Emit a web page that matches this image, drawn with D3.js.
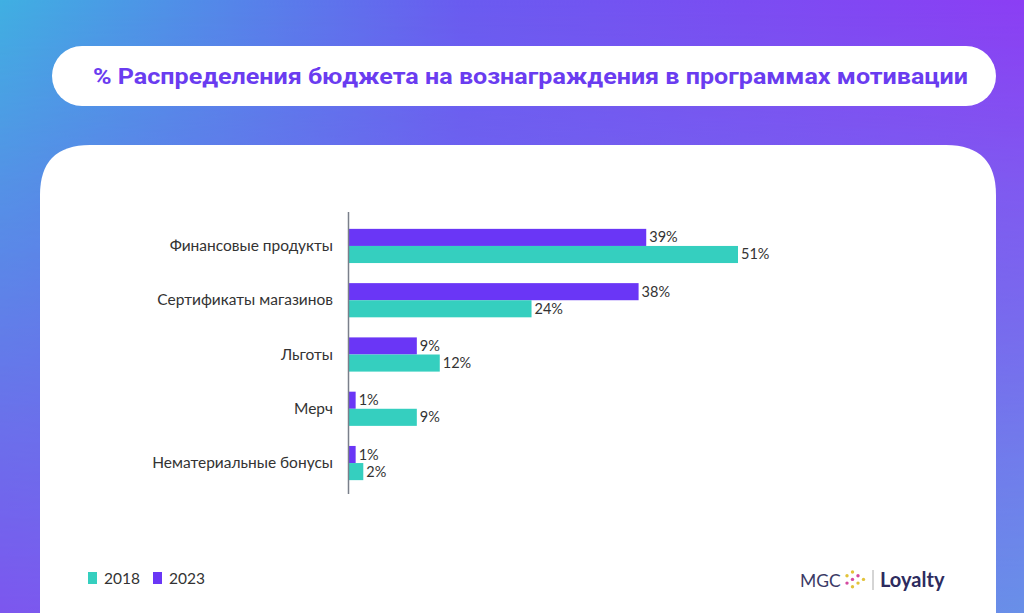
<!DOCTYPE html>
<html><head><meta charset="utf-8">
<script src="https://cdn.jsdelivr.net/npm/d3@7"></script>
<style>html,body{margin:0;padding:0;overflow:hidden;background:#fff}svg{display:block}</style>
</head><body>
<svg id="c" width="1024" height="613"></svg>
<script>
const title = "% Распределения бюджета на вознаграждения в программах мотивации";
const categories = ["Финансовые продукты","Сертификаты магазинов","Льготы","Мерч","Нематериальные бонусы"];
const seriesNames = ["2023","2018"];
const values2023 = [39,38,9,1,1];
const values2018 = [51,24,12,9,2];
const legendOrder = ["2018","2023"];
const colors = {"2023":"#6a36f6","2018":"#35cfbf"};

const svg = d3.select("#c");
const defs = svg.append("defs");
const gTop = defs.append("linearGradient").attr("id","gTop").attr("x1",0).attr("x2",1).attr("y1",0).attr("y2",0);
gTop.append("stop").attr("offset","0%").attr("stop-color","#40b0e2");
gTop.append("stop").attr("offset","45%").attr("stop-color","#6a5cf0");
gTop.append("stop").attr("offset","100%").attr("stop-color","#8c3ef4");
const gBot = defs.append("linearGradient").attr("id","gBot").attr("x1",0).attr("x2",1).attr("y1",0).attr("y2",0);
gBot.append("stop").attr("offset","0%").attr("stop-color","#7c56ee");
gBot.append("stop").attr("offset","50%").attr("stop-color","#7470ee");
gBot.append("stop").attr("offset","100%").attr("stop-color","#6890e8");
const mg = defs.append("linearGradient").attr("id","mg").attr("x1",0).attr("x2",0).attr("y1",0).attr("y2",1);
mg.append("stop").attr("offset","0%").attr("stop-color","#000");
mg.append("stop").attr("offset","30%").attr("stop-color","#555");
mg.append("stop").attr("offset","100%").attr("stop-color","#fff");
defs.append("mask").attr("id","m").append("rect").attr("width",1024).attr("height",613).attr("fill","url(#mg)");

svg.append("rect").attr("width",1024).attr("height",613).attr("fill","url(#gTop)");
svg.append("rect").attr("width",1024).attr("height",613).attr("fill","url(#gBot)").attr("mask","url(#m)");

// title pill
svg.append("rect").attr("x",52).attr("y",46).attr("width",944).attr("height",60).attr("rx",30).attr("fill","#fff");
svg.append("text").attr("x",93).attr("y",84)
  .attr("font-family","Roboto, 'Open Sans', sans-serif").attr("font-weight",700)
  .attr("font-size",22).attr("fill","#6a3cf0").text(title)
  .attr("textLength",875).attr("lengthAdjust","spacingAndGlyphs");

// card
svg.append("path").attr("fill","#fff")
  .attr("d","M40,640 L40,195 Q40,145 90,145 L946,145 Q996,145 996,195 L996,640 Z");

const x = d3.scaleLinear().domain([0,51]).range([348,738]);
const y = d3.scaleBand().domain(categories).range([218,491]).paddingInner(0.37).paddingOuter(0.2);
const ys = d3.scaleBand().domain(seriesNames).range([0,y.bandwidth()]);

const font = "Lato, 'Open Sans', sans-serif";
const rows = categories.map((c,i)=>({c, v:{"2023":values2023[i],"2018":values2018[i]}}));

const g = svg.append("g");
rows.forEach(r=>{
  seriesNames.forEach(s=>{
    g.append("rect").attr("x",x(0)).attr("y",y(r.c)+ys(s))
      .attr("width",x(r.v[s])-x(0)).attr("height",ys.bandwidth())
      .attr("fill",colors[s]);
    g.append("text").attr("x",x(r.v[s])+3).attr("y",y(r.c)+ys(s)+ys.bandwidth()/2+5)
      .attr("font-family",font).attr("font-size",14.5).attr("fill","#333").text(r.v[s]+"%");
  });
  g.append("text").attr("x",333).attr("y",y(r.c)+y.bandwidth()/2+5).attr("text-anchor","end")
    .attr("font-family",font).attr("font-size",15.5).attr("fill","#333").text(r.c);
});
svg.append("line").attr("x1",348.5).attr("x2",348.5).attr("y1",212).attr("y2",494)
  .attr("stroke","#7a7f8a").attr("stroke-width",1.5);

// legend
let lx = 88;
legendOrder.forEach(s=>{
  svg.append("rect").attr("x",lx).attr("y",572).attr("width",9).attr("height",12).attr("fill",colors[s]);
  svg.append("text").attr("x",lx+16).attr("y",584).attr("font-family",font).attr("font-size",15.5).attr("fill","#333").text(s);
  lx += 65;
});

// logo
svg.append("text").attr("x",800).attr("y",587).attr("font-family","Lato, sans-serif").attr("font-weight",400)
  .attr("font-size",17.5).attr("fill","#3b3a66").text("MGC");
const dotCols = ["#3cc7a0","#e2c33a","#e8506a","#d44aa0"];
const dots = [[0,1],[0,3],[1,0],[1,2],[1,4],[2,1],[2,3],[3,2]];
dots.forEach(([cx,cy])=>{
  svg.append("circle").attr("cx",847+cx*5.5).attr("cy",572+cy*3.7).attr("r",1.7).attr("fill",dotCols[(cx+cy)%4]);
});
svg.append("line").attr("x1",873).attr("x2",873).attr("y1",570).attr("y2",590).attr("stroke","#aaa").attr("stroke-width",1);
svg.append("text").attr("x",880).attr("y",587).attr("font-family","Lato, sans-serif").attr("font-weight",700)
  .attr("font-size",20).attr("fill","#2d2b5e").text("Loyalty");
</script>
</body></html>
